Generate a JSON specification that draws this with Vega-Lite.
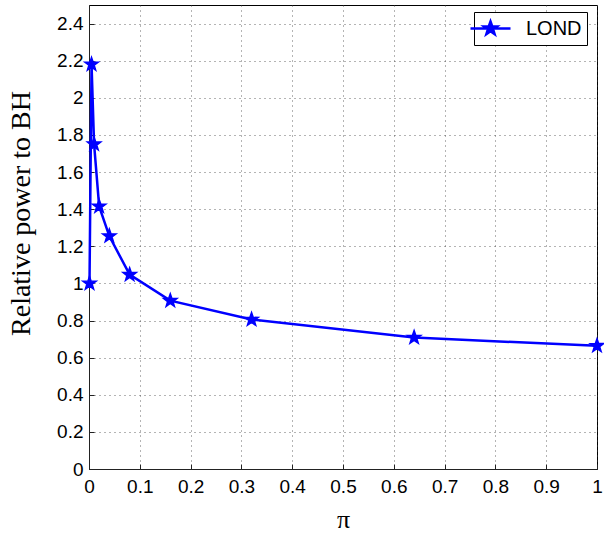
{
  "$schema": "https://vega.github.io/schema/vega-lite/v6.json",
  "autosize": "none",
  "width": 508,
  "height": 464,
  "padding": {"left": 89, "top": 5, "right": 7, "bottom": 70},
  "background": "white",
  "data": {
    "values": [
      {"pi": 0.001, "power": 1.0, "series": "LOND"},
      {"pi": 0.005, "power": 2.18, "series": "LOND"},
      {"pi": 0.01, "power": 1.75, "series": "LOND"},
      {"pi": 0.02, "power": 1.415, "series": "LOND"},
      {"pi": 0.04, "power": 1.255, "series": "LOND"},
      {"pi": 0.08, "power": 1.047, "series": "LOND"},
      {"pi": 0.16, "power": 0.907, "series": "LOND"},
      {"pi": 0.32, "power": 0.805, "series": "LOND"},
      {"pi": 0.64, "power": 0.708, "series": "LOND"},
      {"pi": 1.0, "power": 0.664, "series": "LOND"}
    ]
  },
  "mark": {
    "type": "line",
    "strokeWidth": 2.5,
    "point": {
      "shape": "M0,-1L0.235,-0.324L0.951,-0.309L0.38,0.124L0.588,0.809L0,0.4L-0.588,0.809L-0.38,0.124L-0.951,-0.309L-0.235,-0.324Z",
      "size": 196,
      "filled": true,
      "stroke": "#0000ff",
      "strokeWidth": 1.5
    }
  },
  "encoding": {
    "x": {
      "field": "pi",
      "type": "quantitative",
      "scale": {"domain": [0, 1], "nice": false},
      "axis": {
        "orient": "bottom",
        "values": [0, 0.1, 0.2, 0.3, 0.4, 0.5, 0.6, 0.7, 0.8, 0.9, 1],
        "format": ".1~f",
        "labelFlush": false,
        "title": "π",
        "titleFont": "Liberation Serif",
        "titleFontSize": 26,
        "titleFontWeight": "normal",
        "titlePadding": 10,
        "labelPadding": 13
      }
    },
    "y": {
      "field": "power",
      "type": "quantitative",
      "scale": {"domain": [0, 2.5], "nice": false},
      "axis": {
        "orient": "left",
        "values": [0, 0.2, 0.4, 0.6, 0.8, 1, 1.2, 1.4, 1.6, 1.8, 2, 2.2, 2.4],
        "format": ".1~f",
        "labelFlush": false,
        "title": "Relative power to BH",
        "titleFont": "Liberation Serif",
        "titleFontSize": 28,
        "titleFontWeight": "normal",
        "titleX": -54,
        "titleY": 208,
        "labelPadding": 11
      }
    },
    "color": {
      "field": "series",
      "type": "nominal",
      "scale": {"range": ["#0000ff"]},
      "legend": {
        "title": null,
        "orient": "none",
        "legendX": 385,
        "legendY": 7,
        "symbolType": "M0,-0.7L0.164,-0.226L0.666,-0.216L0.266,0.086L0.412,0.566L0,0.28L-0.412,0.566L-0.266,0.086L-0.666,-0.216L-0.164,-0.226ZM-2,0H2",
        "symbolSize": 400,
        "symbolStrokeWidth": 2.5,
        "symbolFillColor": "#0000ff",
        "symbolStrokeColor": "#0000ff",
        "labelFont": "Liberation Sans",
        "labelFontSize": 20,
        "labelColor": "black",
        "labelOffset": 24,
        "strokeColor": "black",
        "fillColor": "white",
        "padding": 5
      }
    }
  },
  "config": {
    "view": {"stroke": "black", "strokeWidth": 1},
    "axis": {
      "labelFont": "Liberation Sans",
      "labelFontSize": 19,
      "labelColor": "black",
      "domainColor": "#222",
      "domainWidth": 1,
      "tickColor": "#222",
      "tickSize": -5,
      "grid": true,
      "gridColor": "#444",
      "gridDash": [1, 4],
      "gridOpacity": 0.8
    }
  }
}
